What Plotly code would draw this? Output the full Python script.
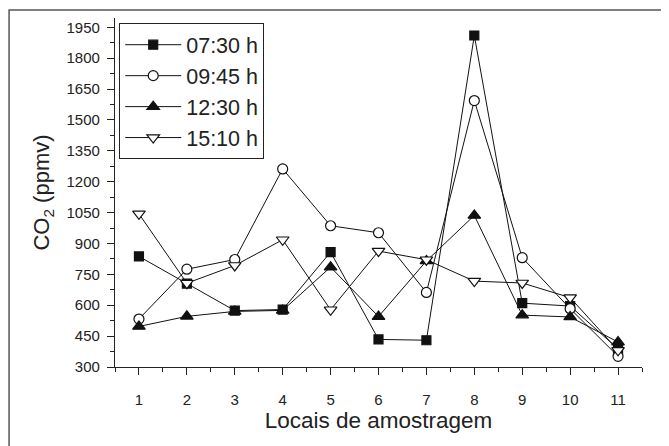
import plotly.graph_objects as go

locais = [1, 2, 3, 4, 5, 6, 7, 8, 9, 10, 11]
s0730 = [837, 705, 574, 579, 858, 434, 430, 1910, 610, 596, 388]
s0945 = [533, 775, 822, 1262, 986, 952, 662, 1594, 831, 583, 352]
s1230 = [497, 546, 570, 575, 785, 545, 815, 1036, 552, 543, 421]
s1510 = [1044, 707, 793, 918, 578, 863, 821, 717, 708, 637, 381]
names = ["07:30 h", "09:45 h", "12:30 h", "15:10 h"]
y_ticks = [300, 450, 600, 750, 900, 1050, 1200, 1350, 1500, 1650, 1800, 1950]

series = [s0730, s0945, s1230, s1510]
symbols = ["square", "circle", "triangle-up", "triangle-down"]
fills = ["#111111", "white", "#111111", "white"]
sizes = [9, 10, 11, 11]

fig = go.Figure()
for name, vals, sym, fc, sz in zip(names, series, symbols, fills, sizes):
    fig.add_trace(go.Scatter(
        x=locais, y=vals, name=name, mode="lines+markers",
        line=dict(color="#111111", width=1),
        marker=dict(symbol=sym, size=sz, color=fc, line=dict(color="#111111", width=1.2)),
    ))

font_fam = "Liberation Sans"
fig.update_layout(
    width=669, height=446,
    margin=dict(l=107, r=35, t=10, b=87),
    paper_bgcolor="white", plot_bgcolor="white",
    font=dict(family=font_fam, color="#222222"),
    showlegend=True,
    legend=dict(
        x=0.008, y=0.985, xanchor="left", yanchor="top",
        bordercolor="#222222", borderwidth=1, bgcolor="white",
        font=dict(size=21.5, family=font_fam, color="#222222"),
        tracegroupgap=0, itemwidth=56,
    ),
    xaxis=dict(
        range=[0.5, 11.5], tickvals=locais, ticktext=[str(v) for v in locais],
        showline=True, linecolor="#222222", linewidth=1.2, mirror=False,
        showgrid=False, zeroline=False, automargin=False,
        ticks="outside", ticklen=7, tickcolor="#222222", tickwidth=1.2,
        minor=dict(ticks="outside", ticklen=4, dtick=0.5, tick0=0.5, tickcolor="#222222", tickwidth=1.2, showgrid=False),
        tickfont=dict(size=15, family=font_fam), ticklabelstandoff=12,
        title=dict(text="Locais de amostragem", font=dict(size=22.5, family=font_fam), standoff=5),
    ),
    yaxis=dict(
        range=[300, 1995], tickvals=y_ticks,
        showline=True, linecolor="#222222", linewidth=1.2, mirror=False,
        showgrid=False, zeroline=False, automargin=False,
        ticks="outside", ticklen=7, tickcolor="#222222", tickwidth=1.2,
        minor=dict(ticks="outside", ticklen=4, dtick=75, tick0=300, tickcolor="#222222", tickwidth=1.2, showgrid=False),
        tickfont=dict(size=15, family=font_fam), ticklabelstandoff=4,
        title=dict(text="CO<sub>2</sub> (ppmv)", font=dict(size=22, family=font_fam), standoff=10),
    ),
)

# outer frame around the figure
fig.add_shape(type="rect", xref="paper", yref="paper",
              x0=-0.201, x1=1.0436, y0=-0.235, y1=1.0229,
              line=dict(color="#555555", width=1.5), layer="below")

fig.write_html("out.html")
